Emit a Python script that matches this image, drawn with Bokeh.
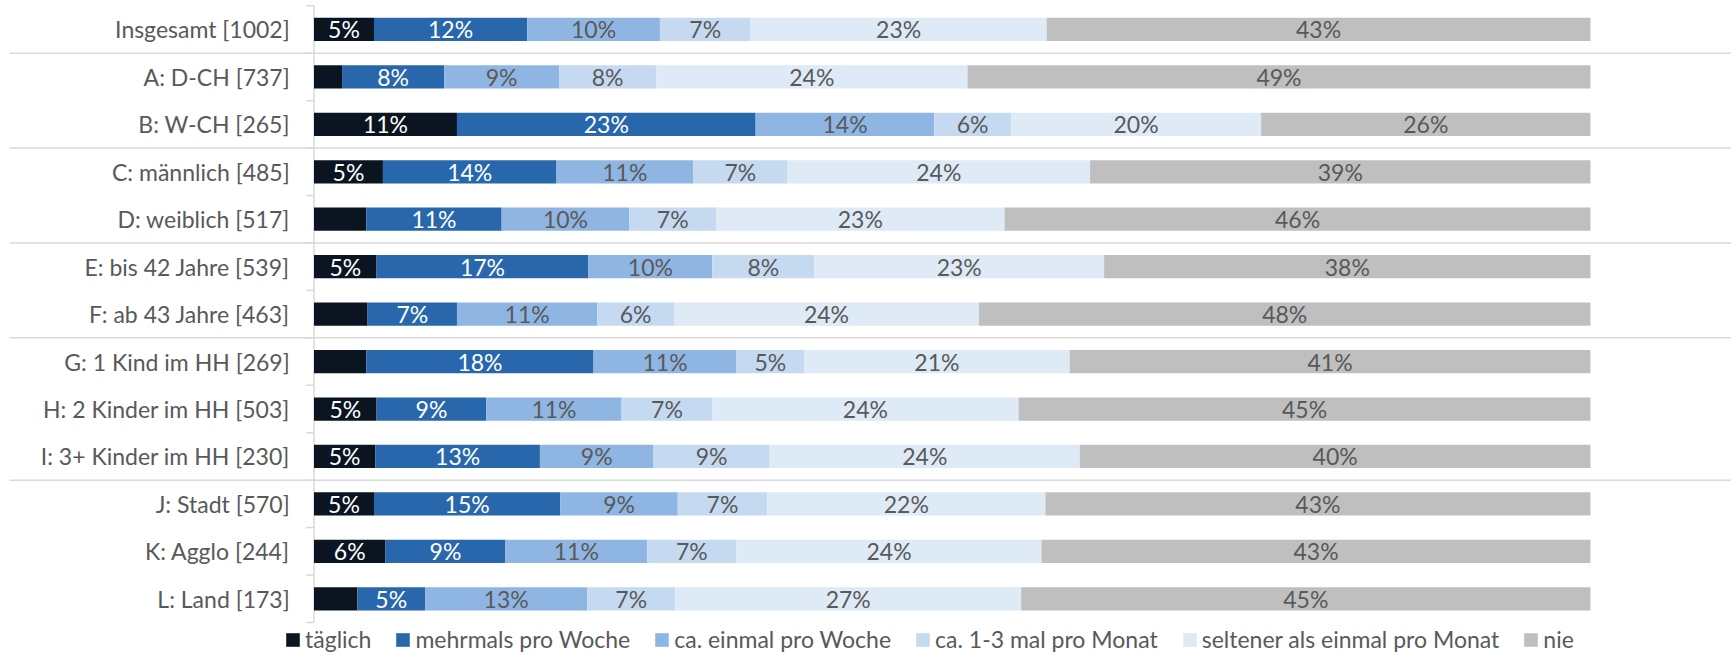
from bokeh.plotting import figure
from bokeh.models import ColumnDataSource, Range1d, Legend, LegendItem
from bokeh.core.properties import value
from bokeh.embed import file_html
from bokeh.resources import INLINE

# ---------------- data ----------------
categories = [
    "Insgesamt [1002]", "A: D-CH [737]", "B: W-CH [265]", "C: männlich [485]",
    "D: weiblich [517]", "E: bis 42 Jahre [539]", "F: ab 43 Jahre [463]",
    "G: 1 Kind im HH [269]", "H: 2 Kinder im HH [503]", "I: 3+ Kinder im HH [230]",
    "J: Stadt [570]", "K: Agglo [244]", "L: Land [173]",
]
series_names = [
    "täglich", "mehrmals pro Woche", "ca. einmal pro Woche",
    "ca. 1-3 mal pro Monat", "seltener als einmal pro Monat", "nie",
]
taeglich = [4.7, 2.2, 11.2, 5.4, 4.1, 4.9, 4.2, 4.1, 4.9, 4.8, 4.7, 5.6, 3.4]
mehrmals = [12.0, 8.0, 23.4, 13.6, 10.6, 16.6, 7.0, 17.8, 8.6, 12.9, 14.6, 9.4, 5.3]
einmal = [10.4, 9.0, 14.0, 10.7, 10.0, 9.7, 11.0, 11.2, 10.6, 8.9, 9.2, 11.1, 12.7]
monatlich = [7.1, 7.6, 6.0, 7.4, 6.8, 8.0, 6.0, 5.3, 7.1, 9.1, 7.0, 7.0, 6.9]
seltener = [23.2, 24.4, 19.6, 23.7, 22.6, 22.7, 23.9, 20.8, 24.0, 24.3, 21.8, 23.9, 27.1]
nie = [42.6, 48.8, 25.8, 39.2, 45.9, 38.1, 47.9, 40.8, 44.8, 40.0, 42.7, 43.0, 44.6]
group_ends = ["Insgesamt [1002]", "B: W-CH [265]", "D: weiblich [517]",
              "F: ab 43 Jahre [463]", "I: 3+ Kinder im HH [230]"]

# ---------------- style ----------------
colors = ["#0b1522", "#2867ab", "#8fb6e3", "#c5daf1", "#deeaf6", "#bfbfbf"]
label_colors = ["#ffffff", "#ffffff", "#595959", "#595959", "#595959", "#595959"]
FONT = "Lato"
FS = "23px"
GRAY_TXT = "#595959"
LINE = "#d9d9d9"

values = [taeglich, mehrmals, einmal, monatlich, seltener, nie]
keys = ["s%d" % i for i in range(len(series_names))]
n = len(categories)
ys = [n - 1 - i for i in range(n)]

data = {"y": ys, "cat": categories}
for k, v in zip(keys, values):
    data[k] = v
src = ColumnDataSource(data)

# segment labels (shown when the rounded share is at least 5 %)
lx, ly, lt, lc = [], [], [], []
for i in range(n):
    left = 0.0
    for j, v in enumerate(values):
        val = v[i]
        r = round(val)
        if r >= 5:
            lx.append(left + val / 2)
            ly.append(ys[i])
            lt.append("%d%%" % r)
            lc.append(label_colors[j])
        left += val
lab_src = ColumnDataSource(dict(x=lx, y=ly, text=lt, color=lc))

X0, X1 = -24.56, 111.05
p = figure(width=1731, height=655,
           x_range=Range1d(X0, X1), y_range=Range1d(-1.196, 12.611),
           x_axis_type=None, y_axis_type=None,
           output_backend="svg", toolbar_location=None,
           min_border=0, outline_line_color=None)
p.grid.visible = False
p.background_fill_color = "white"

# group separator lines
sep_y = [ys[categories.index(c)] - 0.5 for c in group_ends]
p.segment(x0=[-23.85] * len(sep_y), x1=[X1] * len(sep_y), y0=sep_y, y1=sep_y,
          line_color=LINE, line_width=1.5)

# axis line and boundary ticks
p.segment(x0=[0], x1=[0], y0=[ys[-1] - 0.5], y1=[ys[0] + 0.5], line_color=LINE, line_width=1.5)
tick_y = [y + 0.5 for y in ys] + [ys[-1] - 0.5]
p.segment(x0=[-0.63] * len(tick_y), x1=[0] * len(tick_y), y0=tick_y, y1=tick_y,
          line_color=LINE, line_width=1.5)

renderers = p.hbar_stack(keys, y="y", height=0.49, color=colors, line_color=None, source=src)

p.text(x="x", y="y", text="text", text_color="color", source=lab_src,
       text_align="center", text_baseline="middle",
       text_font=value(FONT), text_font_size=FS)

p.text(x=[-1.9] * n, y=ys, text=categories, text_color=GRAY_TXT,
       text_align="right", text_baseline="middle",
       text_font=value(FONT), text_font_size=FS)

legend = Legend(items=[LegendItem(label=nm, renderers=[r]) for nm, r in zip(series_names, renderers)],
                orientation="horizontal", location=(284, 2),
                label_text_font=FONT, label_text_font_size=FS, label_text_color=GRAY_TXT,
                glyph_width=17, glyph_height=17, label_standoff=4, spacing=23,
                label_height=17, padding=0, margin=0,
                border_line_color=None, background_fill_alpha=0)
p.add_layout(legend)

open("out.html", "w").write(file_html(p, INLINE))
